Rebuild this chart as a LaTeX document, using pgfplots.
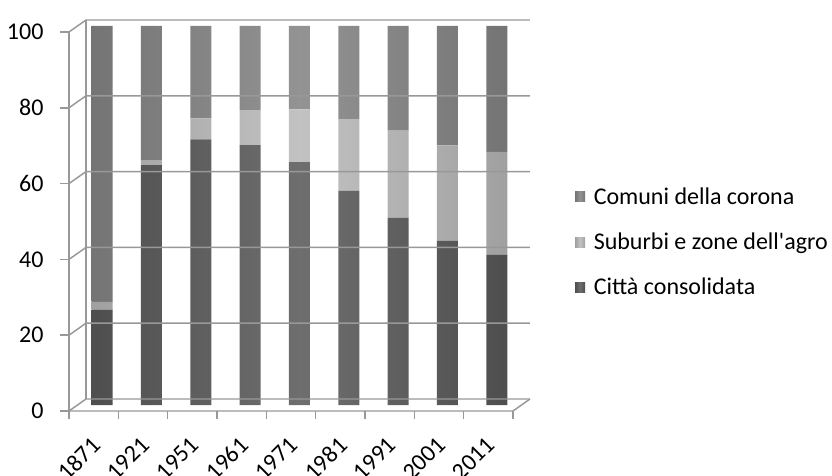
\documentclass[border=0pt]{standalone}
\usepackage{pgfplots}
\pgfplotsset{compat=1.18}
\usepackage{fontspec}
\setmainfont{Carlito}
\definecolor{gridc}{HTML}{989898}
\definecolor{cittaE}{HTML}{4E4E4E}
\definecolor{cittaM}{HTML}{6E6E6E}
\definecolor{subE}{HTML}{A0A0A0}
\definecolor{subM}{HTML}{C2C2C2}
\definecolor{comE}{HTML}{747474}
\definecolor{comM}{HTML}{939393}
\pgfplotstableread{
x citta suburbi comuni
0 25.1 2.1 72.8
1 63.3 1.3 35.4
2 70.1 5.5 24.4
3 68.6 9.2 22.2
4 64.1 13.9 22.0
5 56.5 18.9 24.6
6 49.4 23.0 27.6
7 43.4 25.1 31.5
8 39.6 27.2 33.2
}\datatable
\begin{document}
\begin{tikzpicture}
\useasboundingbox (0,0) rectangle (624pt,356.25pt);
\begin{axis}[
  at={(58.125pt,52.5pt)}, anchor=south west,
  scale only axis, width=333pt, height=284.25pt,
  xmin=-0.5, xmax=8.5, ymin=0, ymax=100,
  ybar stacked, bar width=15.75pt,
  axis line style={draw=none},
  tick style={draw=none},
  xtick={0,...,8},
  xticklabels={1871,1921,1951,1961,1971,1981,1991,2001,2011},
  xticklabel style={rotate=45, anchor=north east, xshift=-19pt, yshift=-6.5pt, font=\fontsize{18}{21}\selectfont},
  ytick={0,20,...,100},
  yticklabel style={anchor=east, xshift=-22pt, yshift=-4.5pt, font=\fontsize{18}{21}\selectfont},
  /pgf/number format/assume math mode=true,
  clip=false,
  reverse legend,
  legend style={draw=none, fill=none, at={(1,0.43)}, anchor=west, xshift=37pt,
    font=\fontsize{18}{21}\selectfont, row sep=16pt},
  legend cell align=left,
  legend image code/.code={\fill[#1] (0pt,-3.75pt) rectangle (7.5pt,3.75pt); \path (12pt,0pt);},
]
% back wall grid lines and left wall diagonals
\pgfplotsinvokeforeach{0,20,40,60,80,100}{
  \draw[gridc, line width=1.1pt] ([xshift=-6.375pt,yshift=-4.5pt]axis cs:-0.5,#1) -- ([xshift=6.375pt,yshift=4.5pt]axis cs:-0.5,#1) -- ([xshift=6.375pt,yshift=4.5pt]axis cs:8.5,#1);
  \draw[gridc, line width=1.1pt] ([xshift=-6.375pt,yshift=-4.5pt]axis cs:-0.5,#1) -- ++(-6.5pt,0pt);
}
\draw[gridc, line width=1.1pt] ([xshift=-6.375pt,yshift=-4.5pt]axis cs:-0.5,0) -- ([xshift=-6.375pt,yshift=-4.5pt]axis cs:-0.5,100);
\draw[gridc, line width=1.1pt] ([xshift=6.375pt,yshift=4.5pt]axis cs:-0.5,0) -- ([xshift=6.375pt,yshift=4.5pt]axis cs:-0.5,100);
\draw[gridc, line width=1.1pt] ([xshift=-6.375pt,yshift=-4.5pt]axis cs:-0.5,0) -- ([xshift=-6.375pt,yshift=-4.5pt]axis cs:8.5,0) -- ([xshift=6.375pt,yshift=4.5pt]axis cs:8.5,0);
\pgfplotsinvokeforeach{-0.5,0.5,1.5,2.5,3.5,4.5,5.5,6.5,7.5,8.5}{
  \draw[gridc, line width=1.1pt] ([xshift=-6.375pt,yshift=-4.5pt]axis cs:#1,0) -- ++(0pt,-6pt);
}
\addplot[draw=none, left color=cittaE, right color=cittaE, middle color=cittaM] table[x=x, y=citta] {\datatable};
\addlegendentry{Città consolidata}
\addplot[draw=none, left color=subE, right color=subE, middle color=subM] table[x=x, y=suburbi] {\datatable};
\addlegendentry{Suburbi e zone dell\textquotesingle agro}
\addplot[draw=none, left color=comE, right color=comE, middle color=comM] table[x=x, y=comuni] {\datatable};
\addlegendentry{Comuni della corona}
\end{axis}
\end{tikzpicture}
\end{document}
